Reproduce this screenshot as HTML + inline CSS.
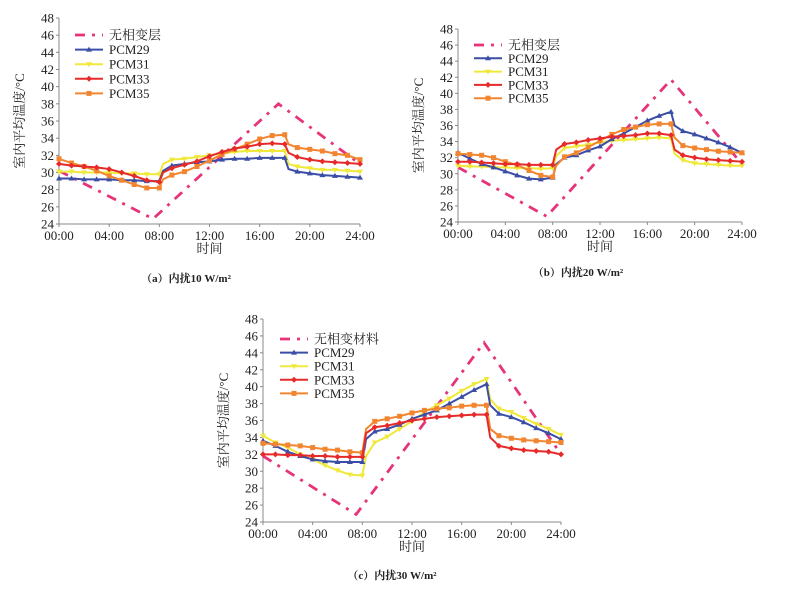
<!DOCTYPE html>
<html><head><meta charset="utf-8">
<style>
html,body{margin:0;padding:0;background:#fff;}
svg{display:block;}
text{font-family:"Liberation Serif","Noto Serif CJK SC",serif;fill:#222;}
</style></head>
<body>
<svg id="s" width="796" height="592" xmlns="http://www.w3.org/2000/svg"></svg>
<script>
const S=document.getElementById('s');
let h='';
const C={none:'#e6337a',p29:'#3b4ea6',p31:'#f0e83a',p33:'#e62a2a',p35:'#f28630'};
const DA='10,7,3,7';
function panel(P){
 const X=t=>P.x0+(P.x1-P.x0)*t/24, Y=v=>P.yb+(P.yt-P.yb)*(v-24)/24;
 h+=`<line x1="${P.x0}" y1="${P.yt}" x2="${P.x0}" y2="${P.yb}" stroke="#888" stroke-width="1"/>`;
 h+=`<line x1="${P.x0}" y1="${P.yb}" x2="${P.x1}" y2="${P.yb}" stroke="#888" stroke-width="1"/>`;
 for(let v=24;v<=48;v+=2){const y=Y(v);h+=`<line x1="${P.x0-3}" y1="${y}" x2="${P.x0}" y2="${y}" stroke="#888"/>`;
  h+=`<text x="${P.x0-5}" y="${y+4.5}" font-size="13" text-anchor="end">${v}</text>`;}
 for(let t=0;t<=24;t+=4){const x=X(t);h+=`<line x1="${x}" y1="${P.yb}" x2="${x}" y2="${P.yb+3}" stroke="#888"/>`;
  h+=`<text x="${x}" y="${P.yb+16}" font-size="13" text-anchor="middle">${String(t).padStart(2,'0')}:00</text>`;}
 h+=`<text x="${(P.x0+P.x1)/2}" y="${P.yb+29}" font-size="13" text-anchor="middle">时间</text>`;
 const ym=(P.yt+P.yb)/2;
 h+=`<text transform="translate(${P.x0-35},${ym}) rotate(-90)" font-size="13" text-anchor="middle">室内平均温度/°C</text>`;
 h+=`<text x="${P.cx}" y="${P.cy}" font-size="11" font-weight="bold" text-anchor="middle">（${P.lab}）内扰${P.w} W/m²</text>`;
 h+=`<polyline points="${P.none.map(p=>X(p[0])+','+Y(p[1])).join(' ')}" fill="none" stroke="${C.none}" stroke-width="2.8" stroke-dasharray="${DA}"/>`;
 for(const k of ['p31','p29','p35','p33']){
  const d=P[k];
  h+=`<polyline points="${d.map(p=>X(p[0])+','+Y(p[1])).join(' ')}" fill="none" stroke="${C[k]}" stroke-width="2"/>`;
  for(const p of d){ if(Math.abs(p[0]-Math.round(p[0]))>0.01) continue; const x=X(p[0]),y=Y(p[1]); h+=mk(k,x,y);}
 }
 const L=P.leg;
 const names=[['none',P.nn],['p29','PCM29'],['p31','PCM31'],['p33','PCM33'],['p35','PCM35']];
 names.forEach((n,i)=>{const y=L.y+i*L.dy;
  if(n[0]=='none') h+=`<line x1="${L.x}" y1="${y}" x2="${L.x+28}" y2="${y}" stroke="${C.none}" stroke-width="2.8" stroke-dasharray="${DA}"/>`;
  else {h+=`<line x1="${L.x}" y1="${y}" x2="${L.x+28}" y2="${y}" stroke="${C[n[0]]}" stroke-width="2"/>`+mk(n[0],L.x+14,y);}
  h+=`<text x="${L.x+34}" y="${y+4.5}" font-size="13">${n[1]}</text>`;});
}
function mk(k,x,y){const c=C[k];
 if(k=='p29')return `<polygon points="${x},${y-3} ${x-3},${y+2} ${x+3},${y+2}" fill="${c}"/>`;
 if(k=='p31')return `<polygon points="${x},${y+3} ${x-3},${y-2} ${x+3},${y-2}" fill="${c}"/>`;
 if(k=='p33')return `<polygon points="${x},${y-3} ${x+3},${y} ${x},${y+3} ${x-3},${y}" fill="${c}"/>`;
 return `<rect x="${x-2.5}" y="${y-2.5}" width="5" height="5" fill="${c}"/>`;}
panel({x0:59,x1:360,yt:18,yb:224,cx:186,cy:282,lab:'a',w:10,nn:'无相变层',leg:{x:75,y:35,dy:14.6},
 none:[[0,30.2],[7.5,24.6],[17.5,38],[24,31]],
 p29:[[0,29.3],[1,29.3],[2,29.2],[3,29.2],[4,29.2],[5,29.1],[6,29.1],[7,29],[8,29],[8.3,30.2],[9,30.8],[10,31],[11,31.2],[12,31.3],[13,31.5],[14,31.6],[15,31.6],[16,31.7],[17,31.7],[18,31.7],[18.3,30.4],[19,30.1],[20,29.9],[21,29.7],[22,29.6],[23,29.5],[24,29.4]],
 p31:[[0,30.1],[1,30.1],[2,30],[3,30],[4,30],[5,29.9],[6,29.9],[7,29.8],[8,29.8],[8.3,31],[9,31.5],[10,31.6],[11,31.8],[12,32],[13,32.2],[14,32.4],[15,32.5],[16,32.5],[17,32.5],[18,32.5],[18.3,31],[19,30.7],[20,30.5],[21,30.3],[22,30.3],[23,30.2],[24,30.1]],
 p33:[[0,31],[1,30.8],[2,30.7],[3,30.6],[4,30.4],[5,30],[6,29.6],[7,29.1],[8,28.9],[8.3,30],[9,30.5],[10,30.9],[11,31.3],[12,31.9],[13,32.4],[14,32.8],[15,33],[16,33.3],[17,33.4],[18,33.3],[18.3,32.3],[19,31.8],[20,31.5],[21,31.3],[22,31.2],[23,31.1],[24,31]],
 p35:[[0,31.6],[1,31.1],[2,30.7],[3,30.2],[4,29.6],[5,29.1],[6,28.6],[7,28.2],[8,28.2],[8.3,29.2],[9,29.7],[10,30.1],[11,30.7],[12,31.4],[13,32.1],[14,32.7],[15,33.3],[16,33.9],[17,34.3],[18,34.4],[18.3,33.3],[19,32.9],[20,32.7],[21,32.5],[22,32.2],[23,32],[24,31.5]]});
panel({x0:458,x1:742,yt:29,yb:222,cx:578,cy:276,lab:'b',w:20,nn:'无相变层',leg:{x:474,y:45,dy:13.3},
 none:[[0,30.8],[7.5,24.7],[18,41.7],[24,31.2]],
 p29:[[0,32.6],[1,31.9],[2,31.2],[3,30.8],[4,30.3],[5,29.8],[6,29.4],[7,29.3],[8,29.5],[8.3,31.2],[9,32],[10,32.3],[11,32.9],[12,33.4],[13,34.3],[14,35],[15,35.8],[16,36.6],[17,37.2],[18,37.7],[18.3,36],[19,35.3],[20,34.9],[21,34.4],[22,33.9],[23,33.3],[24,32.6]],
 p31:[[0,31],[1,30.9],[2,30.9],[3,30.8],[4,30.8],[5,30.7],[6,30.7],[7,30.6],[8,30.7],[8.3,32.2],[9,33.2],[10,33.4],[11,33.6],[12,33.9],[13,34.1],[14,34.2],[15,34.3],[16,34.4],[17,34.5],[18,34.4],[18.3,32.5],[19,31.7],[20,31.3],[21,31.2],[22,31.1],[23,31],[24,31]],
 p33:[[0,31.5],[1,31.5],[2,31.4],[3,31.3],[4,31.2],[5,31.2],[6,31.1],[7,31.1],[8,31.1],[8.3,33],[9,33.7],[10,33.9],[11,34.2],[12,34.4],[13,34.6],[14,34.7],[15,34.8],[16,35],[17,35],[18,34.8],[18.3,33],[19,32.3],[20,32],[21,31.8],[22,31.7],[23,31.6],[24,31.5]],
 p35:[[0,32.5],[1,32.4],[2,32.3],[3,32],[4,31.5],[5,31.1],[6,30.4],[7,29.8],[8,29.6],[8.3,31],[9,32.1],[10,32.6],[11,33.3],[12,34.1],[13,34.9],[14,35.5],[15,35.8],[16,36.1],[17,36.2],[18,36.2],[18.3,34.5],[19,33.5],[20,33.2],[21,33],[22,32.8],[23,32.7],[24,32.6]]});
panel({x0:263,x1:561,yt:319,yb:522,cx:392,cy:579,lab:'c',w:30,nn:'无相变材料',leg:{x:280,y:339,dy:13.6},
 none:[[0,31.8],[7.5,24.9],[17.8,45.2],[24,32]],
 p29:[[0,33.6],[1,33],[2,32.3],[3,31.8],[4,31.4],[5,31.2],[6,31.1],[7,31.1],[8,31.1],[8.3,33.8],[9,34.7],[10,35],[11,35.5],[12,36.2],[13,36.7],[14,37.2],[15,38],[16,38.8],[17,39.6],[18,40.3],[18.3,37.8],[19,36.8],[20,36.4],[21,35.8],[22,35.1],[23,34.5],[24,33.8]],
 p31:[[0,34.2],[1,33.4],[2,32.8],[3,32],[4,31.4],[5,30.7],[6,30.1],[7,29.6],[8,29.5],[8.3,31.8],[9,33.4],[10,34.1],[11,35],[12,35.9],[13,37],[14,37.8],[15,38.6],[16,39.5],[17,40.3],[18,40.9],[18.3,38.5],[19,37.4],[20,37],[21,36.3],[22,35.6],[23,35],[24,34.3]],
 p33:[[0,32],[1,32],[2,31.9],[3,31.9],[4,31.8],[5,31.8],[6,31.7],[7,31.7],[8,31.7],[8.3,34.5],[9,35.2],[10,35.4],[11,35.7],[12,36],[13,36.2],[14,36.4],[15,36.5],[16,36.6],[17,36.7],[18,36.7],[18.3,34],[19,33],[20,32.7],[21,32.5],[22,32.4],[23,32.3],[24,32]],
 p35:[[0,33.3],[1,33.2],[2,33.1],[3,33],[4,32.8],[5,32.6],[6,32.5],[7,32.3],[8,32.2],[8.3,35],[9,35.9],[10,36.2],[11,36.5],[12,36.9],[13,37.2],[14,37.4],[15,37.5],[16,37.7],[17,37.8],[18,37.8],[18.3,35],[19,34.2],[20,33.9],[21,33.7],[22,33.6],[23,33.5],[24,33.4]]});
S.innerHTML=h;
</script>
</body></html>
